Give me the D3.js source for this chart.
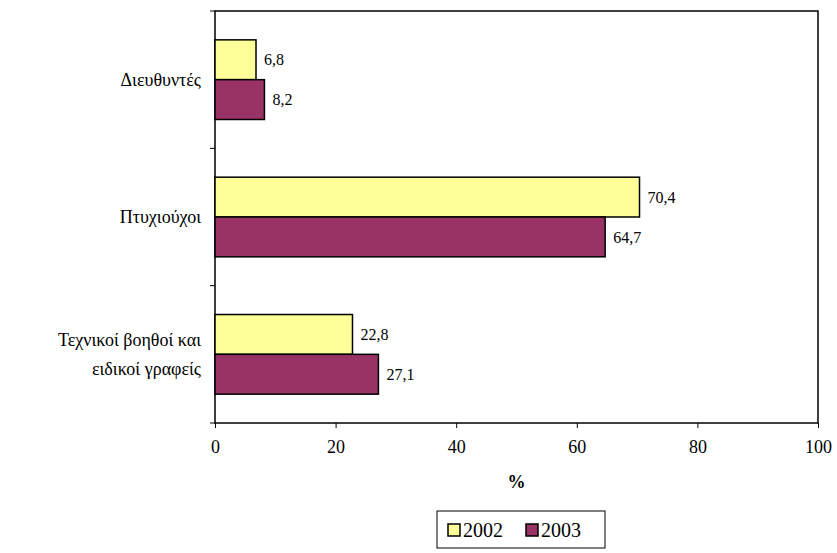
<!DOCTYPE html>
<html><head><meta charset="utf-8">
<script src="https://cdn.jsdelivr.net/npm/d3@7"></script>
<style>body{margin:0;background:#fff}svg{display:block}</style>
</head><body><svg id="c" width="837" height="553"></svg>
<script>
const categories = [["Διευθυντές"], ["Πτυχιούχοι"], ["Τεχνικο\u03AF βοηθο\u03AF και", "ειδικο\u03AF γραφε\u03AFς"]];
const seriesNames = ["2002", "2003"];
const values2002 = [6.8, 70.4, 22.8];
const values2003 = [8.2, 64.7, 27.1];
const xTicks = [0, 20, 40, 60, 80, 100];
const colors = ["#FFFF99", "#993366"];
const FONT = "'Liberation Serif', 'Times New Roman', 'Noto Serif', 'DejaVu Serif', serif";

const svg = d3.select("#c").attr("font-family", FONT);
const m = {l:215, r:818, t:11, b:423};
const x = d3.scaleLinear().domain([0,100]).range([m.l, m.r]);
const y = d3.scaleBand().domain(d3.range(categories.length)).range([m.t, m.b]).paddingInner(0.42).paddingOuter(0.21);
const ySub = d3.scaleBand().domain(seriesNames).range([0, y.bandwidth()]);
const series = [values2002, values2003];

// border
svg.append("rect").attr("x", m.l).attr("y", m.t).attr("width", m.r-m.l).attr("height", m.b-m.t)
  .attr("fill","none").attr("stroke","#000").attr("stroke-width",1.5);

// x axis
const xa = svg.append("g").attr("transform",`translate(0,${m.b})`)
  .call(d3.axisBottom(x).tickValues(xTicks).tickSize(5).tickPadding(12).tickFormat(d3.format("d")));
xa.attr("font-family", FONT).attr("font-size", 18);
xa.select(".domain").remove();
xa.selectAll("line").attr("stroke","#000").attr("stroke-width",1);
xa.selectAll("text").attr("fill","#000");

// y category ticks at band boundaries
const step = y.step();
const bounds = [m.t, m.t + step, m.t + 2*step, m.b];
svg.selectAll(".ytick").data(bounds).enter().append("line")
  .attr("x1", m.l-5).attr("x2", m.l).attr("y1", d=>d).attr("y2", d=>d).attr("stroke","#000");

// bars
series.forEach((vals, si) => {
  svg.selectAll(".b"+si).data(vals).enter().append("rect")
    .attr("x", x(0)).attr("y", (d,i)=>y(i)+ySub(seriesNames[si]))
    .attr("width", d=>x(d)-x(0)).attr("height", ySub.bandwidth())
    .attr("fill", colors[si]).attr("stroke","#000").attr("stroke-width",1.5);
  svg.selectAll(".l"+si).data(vals).enter().append("text")
    .attr("x", d=>x(d)+8).attr("y", (d,i)=>y(i)+ySub(seriesNames[si])+ySub.bandwidth()/2)
    .attr("dy","0.35em").attr("font-size",16)
    .text(d=>d3.format(".1f")(d).replace(".",","));
});

// category labels
categories.forEach((lines,i)=>{
  const cy = y(i)+y.bandwidth()/2;
  const t = svg.append("text").attr("text-anchor","end").attr("font-size",18);
  lines.forEach((ln,j)=>{
    t.append("tspan").attr("x",201).attr("y", cy + (j-(lines.length-1)/2)*29).attr("dy","0.35em").text(ln);
  });
});

// axis title
svg.append("text").attr("x",(m.l+m.r)/2).attr("y",488).attr("text-anchor","middle")
  .attr("font-size",18).attr("font-weight","bold").text("%");

// legend
const lg = svg.append("g");
lg.append("rect").attr("x",437).attr("y",511).attr("width",168).attr("height",37)
  .attr("fill","#fff").attr("stroke","#000").attr("stroke-width",1);
const lx = [448, 526];
seriesNames.forEach((s,i)=>{
  lg.append("rect").attr("x",lx[i]).attr("y",524).attr("width",12).attr("height",12)
    .attr("fill",colors[i]).attr("stroke","#000").attr("stroke-width",1.5);
  lg.append("text").attr("x",lx[i]+15).attr("y",530).attr("dy","0.35em").attr("font-size",20).text(s);
});
</script></body></html>
